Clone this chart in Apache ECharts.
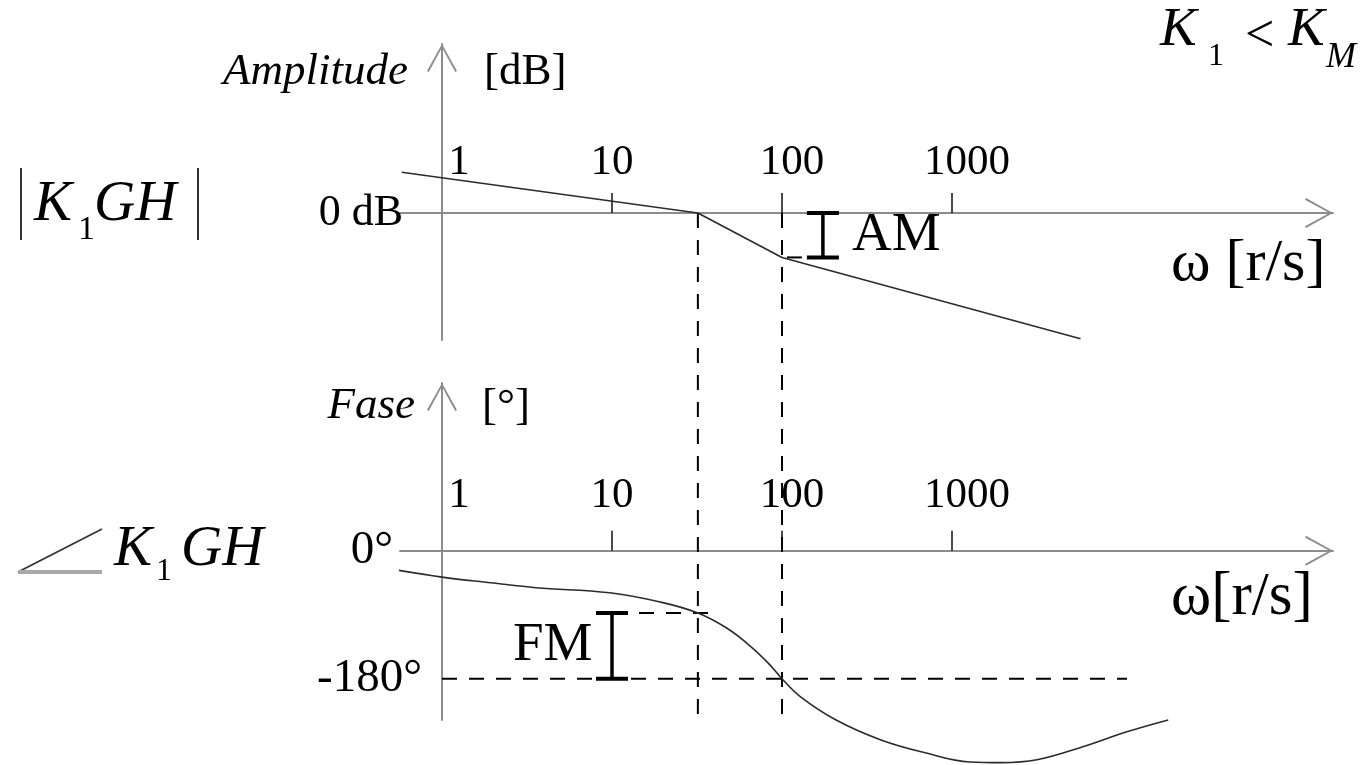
<!DOCTYPE html>
<html>
<head>
<meta charset="utf-8">
<title>Bode – margens de ganho e de fase</title>
<script src="https://cdn.jsdelivr.net/npm/echarts@6/dist/echarts.min.js"></script>
<style>
  html, body { margin: 0; padding: 0; background: #fff; }
  #chart { width: 1370px; height: 765px; }
</style>
</head>
<body>
<div id="chart"></div>
<script>
// Frequency ticks (rad/s) and their labels
const freqTicks = [1, 10, 100, 1000];
const freqTickLabels = ['1', '10', '100', '1000'];

// Magnitude |K1 GH| (straight-line asymptotes), dB
const ampW  = [0.58, 32, 100, 5700];
const ampDb = [32, 0, -35, -99];

// Phase of K1 GH, degrees
const phaseW   = [0.54, 1, 1.94, 3.57, 9.7, 19.2, 32, 47.5, 65, 83, 100, 128, 208, 382, 694, 1276, 1941, 3162, 5820, 10560, 18700];
const phaseDeg = [-27, -37, -45, -52, -59, -72, -87.5, -109, -134, -158, -180, -205, -238, -266, -284, -297, -298, -294, -276, -255, -238];

// Vertical axis labels
const ampTicks = [0];
const ampTickLabels = ['0 dB'];
const phaseTicks = [0, -180];
const phaseTickLabels = ['0°', '-180°'];

// Crossovers and margins
const gainCrossW = 32;          // |K1 GH| = 0 dB
const phaseCrossW = 100;        // angle K1 GH = -180°
const phaseAtGainCross = -87.5; // phase read at gainCrossW
const magAtPhaseCross = -35;    // magnitude read at phaseCrossW
const amMarkW = 174;            // frequency where the AM bracket stands
const fmMarkW = 10;             // frequency where the FM bracket stands
const fmGuideEndW = 40;
const limitLineEndW = 10700;

const lg = Math.log10;
const X_MIN = -0.247, X_MAX = 5.241;
const AMP_MIN = -100, AMP_MAX = 133;
const PH_MIN = -238, PH_MAX = 236;

// Plot frames
const GRID_LEFT = 400, GRID_RIGHT = 37;
const AMP_TOP = 44, AMP_BOTTOM = 425;
const PH_TOP = 383, PH_BOTTOM = 45;
const H = 765;

const serif = '"Liberation Serif", "Times New Roman", serif';
const axisGray = '#8c8c8c';
const ink = '#000';
const arrowPath = 'path://M15,0L30,27L28.2,28L15,3.6L1.8,28L0,27Z';
const TICK_FONT = 43;

// pixel row of the value 0 inside a frame
function zeroRow(top, bottom, min, max) {
  const h = H - top - bottom;
  return top + h * max / (max - min);
}

function labelIndex(list, v) {
  return list.findIndex(w => Math.abs(lg(w) - v) < 1e-6);
}

// Labels are laid out from the frame's top edge; pull them down to sit
// `gap` px above the frequency axis line.
function freqAxis(gridIndex, top, axisRow, gap) {
  const labelBottom = axisRow - gap;
  return {
    type: 'value', gridIndex, min: X_MIN, max: X_MAX, position: 'top',
    axisLine: {
      show: true, onZero: true,
      lineStyle: { color: axisGray, width: 2 },
      symbol: ['none', arrowPath], symbolSize: [30, 28], symbolOffset: [0, -14]
    },
    axisTick: {
      show: true, inside: false, length: 20,
      customValues: freqTicks.slice(1).map(lg),
      lineStyle: { color: '#111', width: 1.5 }
    },
    axisLabel: {
      show: true, margin: top - labelBottom,
      customValues: freqTicks.map(lg),
      fontFamily: serif, fontSize: TICK_FONT, color: ink,
      formatter: v => {
        const i = labelIndex(freqTicks, v);
        return '{p' + i + '|' + freqTickLabels[i] + '}';
      },
      rich: {
        p0: { padding: [0, 0, 0, 34] },
        p1: { padding: [0, 0, 0, 0] },
        p2: { padding: [0, 0, 0, 20] },
        p3: { padding: [0, 0, 0, 30] }
      }
    },
    splitLine: { show: false }
  };
}

function valueAxis(gridIndex, min, max, ticks, labels, margin, fontSize, rich) {
  return {
    type: 'value', gridIndex, min, max,
    axisLine: {
      show: true, onZero: true,
      lineStyle: { color: axisGray, width: 2 },
      symbol: ['none', arrowPath], symbolSize: [30, 28], symbolOffset: [0, -14]
    },
    axisTick: { show: false },
    axisLabel: {
      show: true, margin, customValues: ticks,
      fontFamily: serif, fontSize, color: ink,
      formatter: v => {
        const i = ticks.indexOf(v);
        return '{q' + i + '|' + labels[i] + '}';
      },
      rich
    },
    splitLine: { show: false }
  };
}

const pairs = (ws, ys) => ws.map((w, i) => [lg(w), ys[i]]);

const dash = { color: '#000', width: 2, type: [15, 12] };
const bracket = (xi, yi, pts) => ({
  type: 'line', xAxisIndex: xi, yAxisIndex: yi, data: pts,
  symbol: 'rect', symbolSize: [32, 4], showSymbol: true,
  itemStyle: { color: '#000' }, lineStyle: { color: '#000', width: 3.5 },
  silent: true, clip: false, z: 5
});

const ampZero = zeroRow(AMP_TOP, AMP_BOTTOM, AMP_MIN, AMP_MAX);
const phZero = zeroRow(PH_TOP, PH_BOTTOM, PH_MIN, PH_MAX);

const option = {
  animation: false,
  backgroundColor: '#fff',
  tooltip: { show: false },
  grid: [
    { left: GRID_LEFT, right: GRID_RIGHT, top: AMP_TOP, bottom: AMP_BOTTOM, outerBoundsMode: 'none', containLabel: false },
    { left: GRID_LEFT, right: GRID_RIGHT, top: PH_TOP, bottom: PH_BOTTOM, outerBoundsMode: 'none', containLabel: false }
  ],
  xAxis: [freqAxis(0, AMP_TOP, ampZero, 29), freqAxis(1, PH_TOP, phZero, 34)],
  yAxis: [
    valueAxis(0, AMP_MIN, AMP_MAX, ampTicks, ampTickLabels, -3, 44, { q0: {} }),
    valueAxis(1, PH_MIN, PH_MAX, phaseTicks, phaseTickLabels, -22, 47,
      { q0: { padding: [0, 29, 0, 0] }, q1: {} })
  ],
  series: [
    {
      type: 'line', xAxisIndex: 0, yAxisIndex: 0,
      data: pairs(ampW, ampDb), symbol: 'none',
      lineStyle: { color: '#2b2b2b', width: 1.6 }, clip: false, silent: true, z: 4
    },
    bracket(0, 0, [[lg(amMarkW), 0], [lg(amMarkW), magAtPhaseCross]]),
    {
      type: 'line', xAxisIndex: 0, yAxisIndex: 0,
      data: [[lg(107), magAtPhaseCross], [lg(131), magAtPhaseCross]], symbol: 'none',
      lineStyle: { color: '#000', width: 2 }, silent: true
    },
    {
      type: 'line', xAxisIndex: 1, yAxisIndex: 1,
      data: pairs(phaseW, phaseDeg), symbol: 'none', smooth: 0.4,
      lineStyle: { color: '#2b2b2b', width: 1.6 }, clip: false, silent: true, z: 4
    },
    {
      type: 'line', xAxisIndex: 1, yAxisIndex: 1,
      data: [[0, -180], [lg(limitLineEndW), -180]], symbol: 'none',
      lineStyle: dash, silent: true
    },
    {
      type: 'line', xAxisIndex: 1, yAxisIndex: 1,
      data: [[lg(fmMarkW), phaseAtGainCross], [lg(fmGuideEndW), phaseAtGainCross]], symbol: 'none',
      lineStyle: dash, silent: true
    },
    bracket(1, 1, [[lg(fmMarkW), phaseAtGainCross], [lg(fmMarkW), -180]])
  ]
};

const chart = echarts.init(document.getElementById('chart'), null, { renderer: 'canvas' });
chart.setOption(option);

// Text helpers for the annotations around the two diagrams
function txt(x, y, text, size, opts) {
  opts = opts || {};
  const font = (opts.italic ? 'italic ' : '') + size + 'px ' + serif;
  return {
    type: 'text', x, y, silent: true, z: 10,
    style: {
      text, font, fill: ink,
      align: opts.align || 'left', textAlign: opts.align || 'left',
      verticalAlign: 'middle', textVerticalAlign: 'middle'
    }
  };
}
function seg(x1, y1, x2, y2, color, width, lineDash) {
  return {
    type: 'line', silent: true, z: 3,
    shape: { x1, y1, x2, y2 },
    style: { stroke: color, lineWidth: width, lineDash: lineDash || null }
  };
}

// Vertical guides through both diagrams at the two crossover frequencies
const px = (g, x, y) => chart.convertToPixel({ gridIndex: g }, [x, y]);
const gTop = px(0, lg(gainCrossW), 0), gBot = px(1, lg(gainCrossW), PH_MIN);
const pTop = px(0, lg(phaseCrossW), 0), pBot = px(1, lg(phaseCrossW), PH_MIN);

chart.setOption({
  graphic: [
    seg(gTop[0], gTop[1], gBot[0], gBot[1] - 5, '#000', 2, [15, 12]),
    seg(pTop[0], pTop[1], pBot[0], pBot[1] + 2, '#000', 2, [15, 12]),

    txt(408, 72, 'Amplitude', 45, { italic: true, align: 'right' }),
    txt(484, 72, '[dB]', 45),
    txt(415, 406, 'Fase', 45, { italic: true, align: 'right' }),
    txt(482, 407, '[°]', 45),

    txt(852, 236, 'AM', 55),
    txt(513, 646, 'FM', 55),
    txt(1171, 264, 'ω [r/s]', 60),
    txt(1171, 598, 'ω[r/s]', 61),

    // K1 < KM
    txt(1160, 31, 'K', 55, { italic: true }),
    txt(1208, 57, '1', 32),
    txt(1245, 37, '<', 52),
    txt(1288, 31, 'K', 55, { italic: true }),
    txt(1326, 58, 'M', 36, { italic: true }),

    // |K1 GH|
    seg(21, 168, 21, 240, '#333', 2),
    seg(198, 168, 198, 240, '#333', 2),
    txt(34, 205, 'K', 57, { italic: true }),
    txt(78, 230, '1', 34),
    txt(94, 205, 'GH', 57, { italic: true }),

    // angle K1 GH
    seg(18, 572, 102, 529, '#333', 1.8),
    seg(18, 572, 102, 572, '#a8a8a8', 4),
    txt(114, 550, 'K', 57, { italic: true }),
    txt(156, 572, '1', 32),
    txt(181, 550, 'GH', 57, { italic: true })
  ]
});
</script>
</body>
</html>
